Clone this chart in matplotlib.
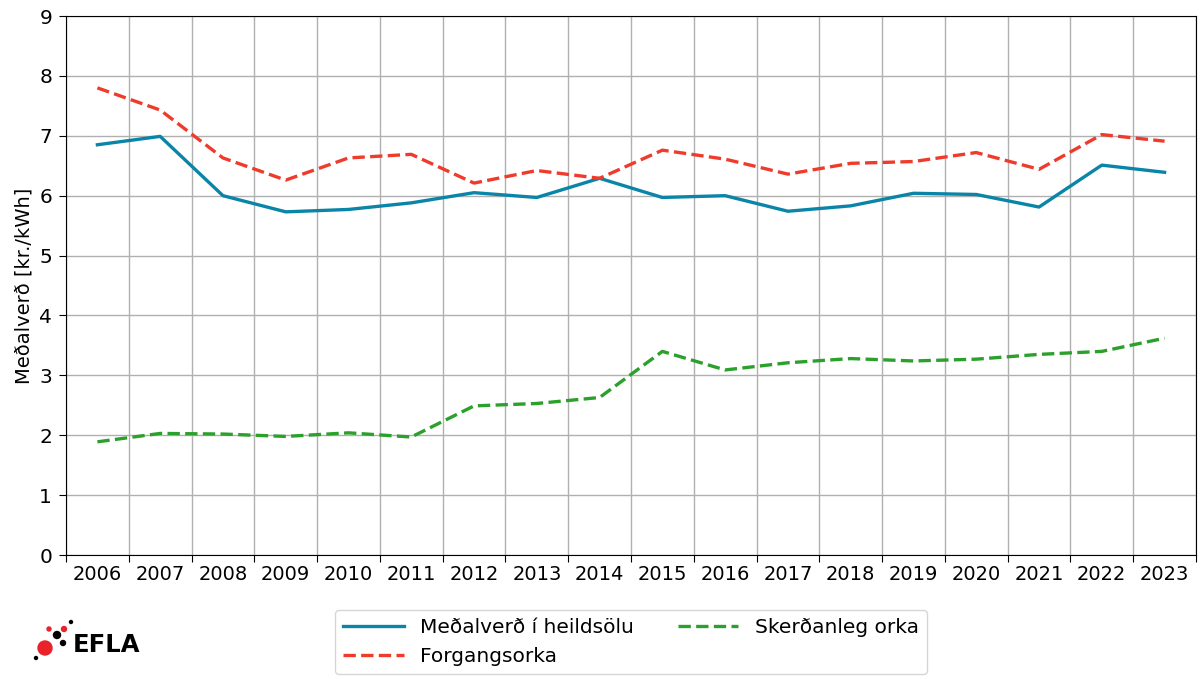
import matplotlib
matplotlib.use("Agg")
import matplotlib.pyplot as plt
from matplotlib.patches import Circle
from matplotlib.ticker import FixedLocator, NullFormatter

years = list(range(2006, 2024))

# Meðalverð í heildsölu
heildsala = [6.85, 6.99, 6.00, 5.73, 5.77, 5.88, 6.05, 5.97, 6.29,
             5.97, 6.00, 5.74, 5.83, 6.04, 6.02, 5.81, 6.51, 6.39]
# Forgangsorka
forgangsorka = [7.80, 7.43, 6.63, 6.26, 6.63, 6.69, 6.21, 6.42, 6.29,
                6.76, 6.61, 6.36, 6.54, 6.57, 6.72, 6.44, 7.02, 6.91]
# Skerðanleg orka
skerdanleg = [1.89, 2.03, 2.02, 1.98, 2.04, 1.97, 2.49, 2.53, 2.63,
              3.40, 3.09, 3.21, 3.28, 3.24, 3.27, 3.35, 3.40, 3.62]

labels = ["Meðalverð í heildsölu", "Forgangsorka", "Skerðanleg orka"]

fig = plt.figure(figsize=(11.98, 6.78), dpi=100)
ax = fig.add_axes([0.0551, 0.1814, 0.9432, 0.795])

ax.plot(years, heildsala, color="#0a85a8", lw=2.4, label=labels[0])
ax.plot(years, forgangsorka, color="#ef3b2c", lw=2.4, ls="--", label=labels[1])
ax.plot(years, skerdanleg, color="#2ca02c", lw=2.4, ls="--", label=labels[2])

ax.set_xlim(years[0] - 0.5, years[-1] + 0.5)
ax.set_ylim(0, 9)

# gridlines / tick marks between years, labels centred on the years
ax.xaxis.set_major_locator(FixedLocator([y - 0.5 for y in years] + [years[-1] + 0.5]))
ax.xaxis.set_major_formatter(NullFormatter())
ax.xaxis.set_minor_locator(FixedLocator(years))
ax.set_xticklabels([str(y) for y in years], minor=True)
ax.tick_params(axis="x", which="minor", length=0, pad=7, labelsize=14)
ax.tick_params(axis="x", which="major", length=5)
ax.tick_params(axis="y", length=5, pad=5, labelsize=14.5)
ax.set_yticks(range(0, 10))

ax.grid(True, color="#b0b0b0", lw=1)
ax.set_axisbelow(True)
ax.set_ylabel("Meðalverð [kr./kWh]", fontsize=14)

ax.legend(loc="upper center", bbox_to_anchor=(0.5, -0.083), ncol=2,
          fontsize=14.5, frameon=True, handlelength=3.0, columnspacing=2.2)

# EFLA logo
fig.text(0.061, 0.0383, "EFLA", fontsize=17.5, fontweight="bold",
         color="black", ha="left", va="baseline")
dots = [(45, 648, 7, "#e8232a"), (49, 629, 2, "#e8232a"), (64, 629, 2.5, "#e8232a"),
        (57, 635, 3.5, "black"), (63, 643, 2.5, "black"), (71, 622, 1.5, "black"),
        (36, 658, 1.5, "black")]
for x, y, r, c in dots:
    fig.patches.append(Circle((x, 678 - y), r, color=c,
                              transform=None, figure=fig))

fig.savefig("out.png", dpi=100)
